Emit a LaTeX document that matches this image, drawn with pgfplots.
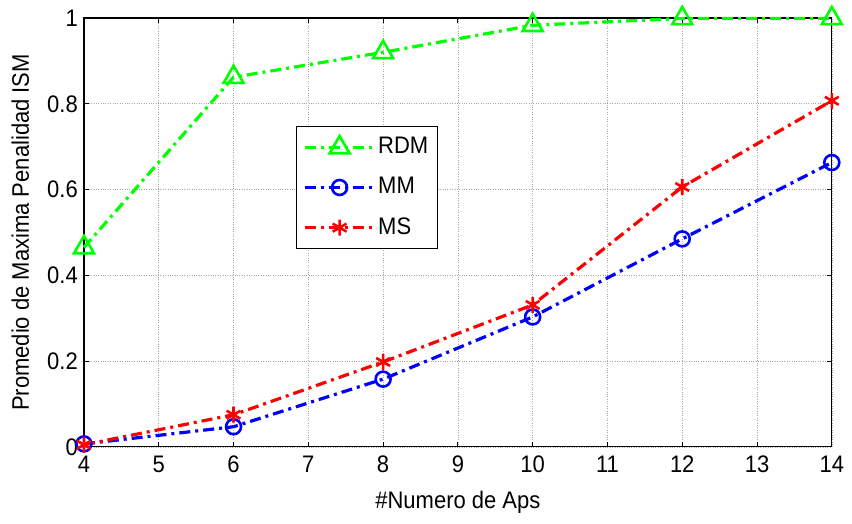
\documentclass[border=0pt]{standalone}
\usepackage{fontspec}
\setmainfont[FakeStretch=0.92]{Liberation Sans}
\usepackage{pgfplots}
\pgfplotsset{compat=1.18}
\begin{document}
\begin{tikzpicture}
\fontsize{24}{28}\selectfont
\begin{axis}[
  scale only axis,
  width=748bp, height=429bp,
  xmin=4, xmax=14, ymin=0, ymax=1,
  xtick={4,5,...,14},
  ytick={0,0.2,0.4,0.6,0.8,1},
  yticklabels={0,0.2,0.4,0.6,0.8,1},
  /pgf/number format/assume math mode=true,
  tick label style={font=\fontsize{24}{28}\selectfont},
  label style={font=\fontsize{24}{28}\selectfont},
  xlabel={\#Numero de Aps},
  ylabel={Promedio de Maxima Penalidad ISM},
  xlabel style={yshift=-2bp},
  ylabel style={yshift=2bp},
  xticklabel style={yshift=-1bp},
  yticklabel style={xshift=2bp},
  tick align=inside,
  major tick length=5bp,
  tick style={black, line width=0.8bp},
  axis line style={black, line width=1.2bp},
  grid=major,
  major grid style={gray!70, dotted, line width=0.6bp},
  clip=false,
  legend style={at={(0.283,0.748)}, anchor=north west, draw=black, line width=0.8bp,
    font=\fontsize{24}{28}\selectfont, row sep=16bp, inner xsep=7bp, inner ysep=9bp,
    legend cell align=left},
  legend image code/.code={
    \draw[mark repeat=2,mark phase=2,#1] plot coordinates {(0bp,0bp) (35bp,0bp) (70bp,0bp)};
  },
]
\addplot[color={rgb,255:red,0;green,255;blue,0}, line width=3.2bp,
  dash pattern=on 11bp off 5bp on 3bp off 5bp,
  mark=triangle, mark size=11.5bp, mark options={solid, line width=2.6bp}]
  coordinates {(4,0.465) (6,0.862) (8,0.92) (10,0.983) (12,0.999) (14,0.999)};
\addlegendentry{RDM}
\addplot[color={rgb,255:red,0;green,0;blue,255}, line width=3.2bp,
  dash pattern=on 11bp off 5bp on 3bp off 5bp,
  mark=o, mark size=7.5bp, mark options={solid, line width=2.6bp}]
  coordinates {(4,0.007) (6,0.047) (8,0.158) (10,0.303) (12,0.485) (14,0.663)};
\addlegendentry{MM}
\addplot[color={rgb,255:red,255;green,0;blue,0}, line width=3.2bp,
  dash pattern=on 11bp off 5bp on 3bp off 5bp,
  mark=asterisk, mark size=8bp, mark options={solid, line width=2.6bp}]
  coordinates {(4,0.005) (6,0.075) (8,0.198) (10,0.331) (12,0.606) (14,0.807)};
\addlegendentry{MS}
\end{axis}
\path (current axis.south west) ++(-84bp,-77bp);
\path (current axis.north east) ++(20bp,18bp);
\end{tikzpicture}
\end{document}
